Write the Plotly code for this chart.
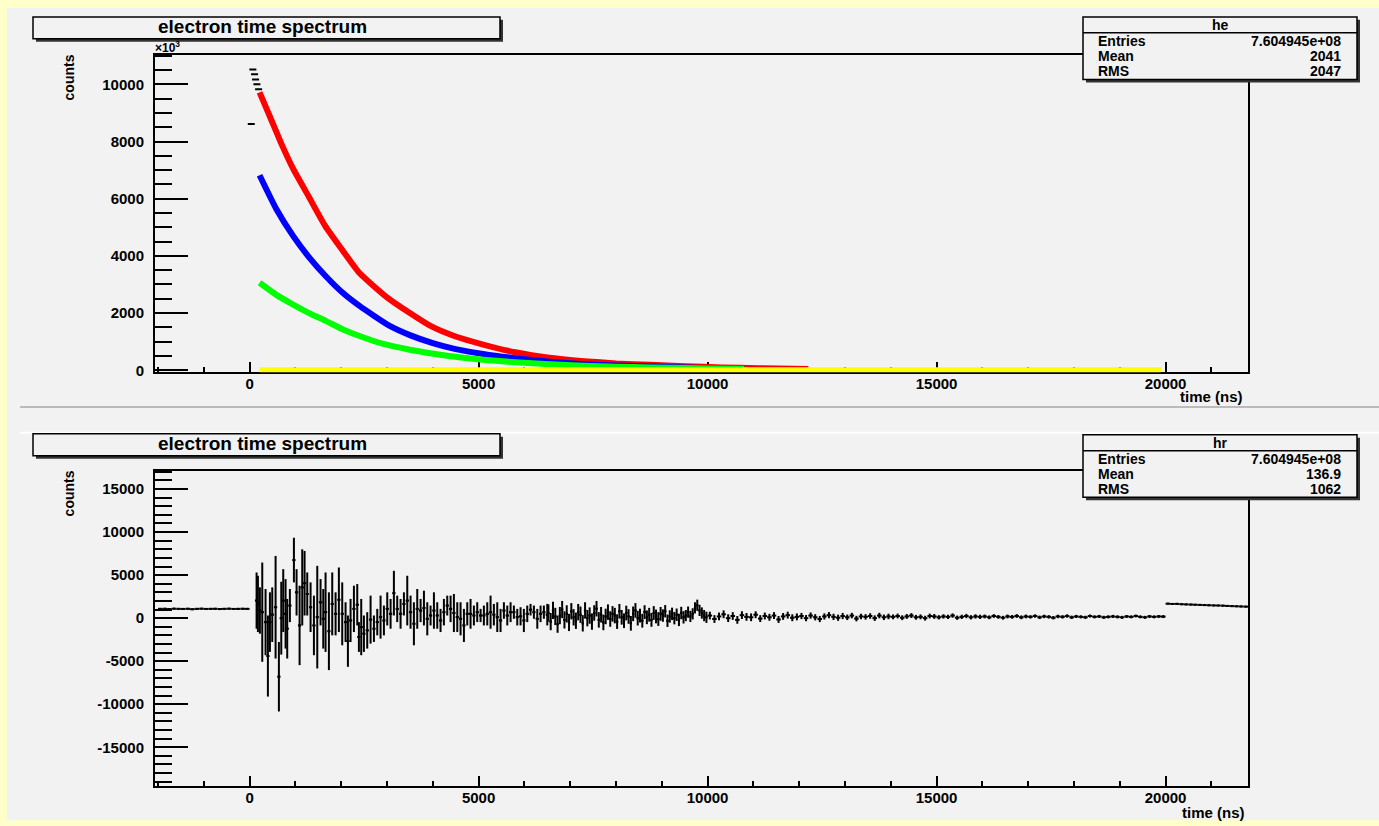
import plotly.graph_objects as go

W, H = 1379, 826
def px(x): return x / W
def py(y): return 1 - y / H

# ---------------- top panel data (he) ----------------
black_t = [37, 72, 109, 131, 160, 197]
black_v = [8610, 10520, 10350, 10170, 10000, 9830]

red_t = [218, 450, 700, 950, 1300, 1650, 2050, 2400, 3000, 3500, 3950, 4500, 5100, 5800, 6500, 7300, 8000, 8750, 9500, 10300, 11100, 12200]
red_v = [9720, 8850, 7900, 7050, 6050, 5050, 4150, 3400, 2550, 2000, 1550, 1180, 900, 630, 450, 320, 240, 190, 140, 100, 70, 45]

blue_t = [218, 580, 950, 1300, 1670, 2040, 2400, 3050, 3500, 4000, 4500, 5100, 5800, 6550, 7300, 8000, 8750, 9500, 10200, 10800]
blue_v = [6820, 5650, 4700, 3950, 3280, 2700, 2250, 1560, 1230, 950, 740, 570, 420, 300, 215, 165, 130, 95, 70, 55]

green_t = [218, 600, 950, 1300, 1670, 2050, 2400, 2900, 3500, 4350, 5100, 5800, 6550, 7300, 8000, 8750, 9500, 10200, 10800]
green_v = [3060, 2620, 2300, 2000, 1720, 1420, 1200, 930, 720, 500, 370, 280, 210, 160, 125, 100, 80, 60, 50]

yellow_t = [218, 19900]
yellow_v = [0, 0]

# ---------------- bottom panel data (hr) ----------------
hr_pre_t = list(range(-1950, 0, 100))
hr_pre_v = [1080, 1090, 1060, 1100, 1080, 1070, 1090, 1040, 1080, 1100,
            1070, 1080, 1090, 1060, 1080, 1100, 1070, 1080, 1090, 1080]
hr_pre_e = [60] * 20

hr_early_t = [153, 182, 225, 277, 349, 400, 444, 495, 568, 640, 692, 735, 786, 822, 880, 968, 1026, 1092, 1150, 1201,
              1259, 1332, 1405, 1478, 1550, 1609, 1659, 1732, 1805, 1878, 1950, 2023, 2096, 2147, 2205, 2278, 2351, 2387, 2438, 2496,
              2569, 2642, 2715, 2788, 2860, 2933, 3006, 3079, 3151, 3224, 3297, 3370, 3443, 3515, 3588, 3661, 3734, 3807, 3880, 3952,
              4025, 4098, 4170, 4243, 4316, 4389, 4461, 4535, 4607, 4680, 4753, 4825, 4898, 4971, 5044, 5116, 5190, 5262, 5334, 5408,
              5480, 5553, 5627, 5699, 5771, 5845, 5917, 5989, 6063, 6135, 6208, 6282, 6354, 6426, 6500]
hr_early_v = [2040, 1656, 887, 695, -459, -4400, -459, 406, 1271, -6803, -2, 2040, 502, -1228, 1464, 6750, 3002, -844, 3578, 4059,
              2809, 1271, -844, 118, 1848, -75, 695, -1516, 1656, 502, 2136, 502, -459, -2670, -267, 1079, 1560, -2189, -1036, -1805,
              -1420, -171, -1228, -459, 118, -267, 1079, 502, 2905, 1079, 502, 1656, 2040, 695, -651, 1079, 887, 1175, -75, 310,
              887, 310, -267, 695, 1464, 1079, 598, 118, -75, -844, 502, 502, 310, 695, 310, 310, 502, 695, 406, 118,
              -267, 887, 310, 695, 695, 118, 214, -267, 502, 983, 695, -75, 502, 695, 406]
hr_early_e = [3268, 3268, 2692, 5768, 3845, 4710, 3460, 3172, 5960, 4037, 4230, 3653, 4037, 3460, 1923, 2595, 2692, 4614, 4422, 3749,
              2500, 2884, 3460, 5960, 2692, 3460, 4614, 4518, 3653, 2500, 3749, 3653, 2307, 2980, 2500, 2692, 2403, 1730, 3268, 2115,
              2115, 2788, 1538, 1538, 2500, 1730, 1923, 1730, 2595, 1538, 1730, 1346, 2884, 1923, 2500, 2307, 1346, 2019, 1923, 1154,
              2115, 1538, 1346, 1538, 1154, 1538, 2211, 1730, 1923, 1923, 1346, 1730, 1154, 1154, 769, 1154, 1346, 1923, 1250, 1730,
              1346, 961, 1154, 1154, 769, 961, 1057, 1346, 961, 673, 769, 1154, 961, 769, 1250]

hr_mid_t = list(range(6525, 10000, 50))
hr_mid_v = [600, -400, 900, 200, -700, 300, 1000, -200, 500, -500,
            800, 100, -300, 700, 400, -600, 900, 0, 300, -400,
            600, 1100, -200, 400, -500, 200, 700, -100, 500, 300,
            -400, 800, 100, -300, 600, 200, -600, 500, 900, 0,
            300, -300, 700, 100, 400, -200, 600, 200, -100, 500,
            300, 800, -300, 200, 500, 0, 400, -200, 600, 100,
            300, 700, 200, 500, 1200, 1500, 900, 600, 300, 100]
hr_mid_block_e = [1000, 950, 900, 850, 800, 720, 650]
hr_mid_e = [e for e in hr_mid_block_e for _ in range(10)]

hr_late_t = list(range(10050, 20000, 100))
hr_late_v = [300, -100, 200, 450, 0, 250, -200, 350, 150, 100,
             400, -50, 250, 100, 300, -150, 200, 350, 50, 150,
             250, 0, 300, 100, -100, 200, 350, 150, 50, 250,
             100, 300, -50, 200, 150, 250, 0, 300, 100, 200,
             150, 250, 50, 200, 300, 100, 150, 0, 250, 200,
             100, 200, 150, 300, 50, 150, 250, 100, 200, 150,
             200, 100, 250, 150, 50, 200, 150, 250, 100, 200,
             150, 250, 100, 200, 150, 50, 200, 150, 250, 100,
             200, 150, 100, 250, 150, 200, 100, 150, 200, 150,
             100, 200, 150, 250, 150, 100, 200, 150, 200, 180]
hr_late_block_e = [450, 400, 360, 320, 280, 250, 220, 200, 180, 170]
hr_late_e = [e for e in hr_late_block_e for _ in range(10)]

hr_post_t = list(range(20050, 21800, 100))
hr_post_v = [1680, 1650, 1660, 1620, 1600, 1580, 1560, 1540, 1520, 1500,
             1480, 1470, 1450, 1420, 1400, 1380, 1360, 1340]
hr_post_e = [40] * 18

X_RANGE = [-2065, 21800]
x_ticks = [0, 5000, 10000, 15000, 20000]
x_ticklabels = ["0", "5000", "10000", "15000", "20000"]
y1_ticks = [0, 2000, 4000, 6000, 8000, 10000]
y1_ticklabels = ["0", "2000", "4000", "6000", "8000", "10000"]
y2_ticks = [-15000, -10000, -5000, 0, 5000, 10000, 15000]
y2_ticklabels = ["-15000", "-10000", "-5000", "0", "5000", "10000", "15000"]

he_stats = [("Entries", "7.604945e+08"), ("Mean", "2041"), ("RMS", "2047")]
hr_stats = [("Entries", "7.604945e+08"), ("Mean", "136.9"), ("RMS", "1062")]

FONT = "Liberation Sans"

fig = go.Figure()

# top traces
fig.add_trace(go.Scatter(x=black_t, y=black_v, mode="markers", xaxis="x", yaxis="y",
                         marker=dict(symbol="line-ew", size=5, line=dict(color="black", width=2)),
                         showlegend=False))
for t, v, c in [(red_t, red_v, "#FF0000"), (blue_t, blue_v, "#0000FF"), (green_t, green_v, "#00FF00")]:
    fig.add_trace(go.Scatter(x=t, y=v, mode="lines", xaxis="x", yaxis="y",
                             line=dict(color=c, width=6, shape="spline", smoothing=0.5), showlegend=False))
fig.add_trace(go.Scatter(x=yellow_t, y=yellow_v, mode="lines", xaxis="x", yaxis="y",
                         line=dict(color="#FFFF00", width=6), showlegend=False))

# bottom traces
segments = [
    (hr_pre_t, hr_pre_v, hr_pre_e, 50),
    (hr_early_t, hr_early_v, hr_early_e, 36),
    (hr_mid_t, hr_mid_v, hr_mid_e, 25),
    (hr_late_t, hr_late_v, hr_late_e, 50),
    (hr_post_t, hr_post_v, hr_post_e, 50),
]
for t, v, e, hw in segments:
    fig.add_trace(go.Scatter(
        x=t, y=v, mode="markers", xaxis="x2", yaxis="y2",
        marker=dict(size=2, color="black", symbol="square"),
        error_y=dict(type="data", array=e, visible=True, color="black", thickness=2, width=0),
        error_x=dict(type="data", array=[hw] * len(t), visible=True, color="black", thickness=2, width=0),
        showlegend=False))

axis_common = dict(showgrid=False, zeroline=False, showline=True, linecolor="black", linewidth=2,
                   mirror=True, ticks="inside", tickcolor="black", tickwidth=2, tickmode="array",
                   tickfont=dict(family=FONT, size=15, color="black", weight="bold"),
                   layer="below traces")

fig.update_layout(
    width=W, height=H, autosize=False,
    margin=dict(l=0, r=0, t=0, b=0, pad=0),
    paper_bgcolor="#FFFFCC", plot_bgcolor="#F2F2F2",
    xaxis=dict(domain=[px(155), px(1248)], range=X_RANGE, anchor="y",
               tickvals=x_ticks, ticktext=x_ticklabels, ticklen=10, ticklabelstandoff=-3,
               minor=dict(dtick=1000, tick0=0, ticklen=5, ticks="inside", tickcolor="black", tickwidth=2),
               **axis_common),
    yaxis=dict(domain=[py(375), py(55)], range=[-70, 11040], anchor="x",
               tickvals=y1_ticks, ticktext=y1_ticklabels, ticklen=33, ticklabelstandoff=6,
               minor=dict(dtick=500, tick0=0, ticklen=17, ticks="inside", tickcolor="black", tickwidth=2),
               **axis_common),
    xaxis2=dict(domain=[px(155), px(1248)], range=X_RANGE, anchor="y2",
                tickvals=x_ticks, ticktext=x_ticklabels, ticklen=10, ticklabelstandoff=-3,
                minor=dict(dtick=1000, tick0=0, ticklen=5, ticks="inside", tickcolor="black", tickwidth=2),
                **axis_common),
    yaxis2=dict(domain=[py(792), py(474)], range=[-19530, 17150], anchor="x2",
                tickvals=y2_ticks, ticktext=y2_ticklabels, ticklen=33, ticklabelstandoff=6,
                minor=dict(dtick=1000, tick0=0, ticklen=17, ticks="inside", tickcolor="black", tickwidth=2),
                **axis_common),
)

shapes = []
# canvas / pads
shapes.append(dict(type="rect", xref="paper", yref="paper", x0=px(7), x1=1, y0=0, y1=py(8),
                   fillcolor="#F2F2F2", line=dict(width=0), layer="below"))
shapes.append(dict(type="line", xref="paper", yref="paper", x0=px(20), x1=1, y0=py(410), y1=py(410),
                   line=dict(color="#BBBBBB", width=2), layer="below"))
shapes.append(dict(type="line", xref="paper", yref="paper", x0=px(20), x1=1, y0=py(436), y1=py(436),
                   line=dict(color="#FFFFFF", width=2), layer="below"))

def box(x0, y0, x1, y1):
    shapes.append(dict(type="rect", xref="paper", yref="paper", x0=px(x0 + 3), x1=px(x1 + 3),
                       y0=py(y1 + 3), y1=py(y0 + 3), fillcolor="#333333", line=dict(width=0), layer="above"))
    shapes.append(dict(type="rect", xref="paper", yref="paper", x0=px(x0), x1=px(x1),
                       y0=py(y1), y1=py(y0), fillcolor="#F2F2F2", line=dict(color="black", width=1.5), layer="above"))

annotations = []
def text(x, y, s, size=15, xanchor="center", textangle=0, yanchor="middle"):
    annotations.append(dict(x=px(x), y=py(y), xref="paper", yref="paper", text=s, showarrow=False,
                            xanchor=xanchor, yanchor=yanchor, textangle=textangle,
                            font=dict(family=FONT, size=size, color="black", weight="bold")))

for (ty, sy, name, stats) in [(17, 17, "he", he_stats), (437, 438, "hr", hr_stats)]:
    box(33, ty, 500, ty + 22)
    text(262, ty + 10, "electron time spectrum", size=19)
    box(1083, sy, 1357, sy + 63)
    shapes.append(dict(type="line", xref="paper", yref="paper", x0=px(1083), x1=px(1357),
                       y0=py(sy + 16), y1=py(sy + 16), line=dict(color="black", width=1.5), layer="above"))
    text(1220, sy + 8, name, size=14)
    for i, (k, v) in enumerate(stats):
        yy = sy + 24 + i * 15.3
        text(1096, yy, k, size=14, xanchor="left")
        text(1343, yy, v, size=14, xanchor="right")

text(69, 78, "counts", size=14, textangle=-90)
text(69, 497, "counts", size=14, textangle=-90)
text(153, 47, "×10<sup>3</sup>", size=12, xanchor="left")
text(1245, 399, "time (ns)", size=15, xanchor="right")
text(1247, 818, "time (ns)", size=15, xanchor="right")

fig.update_layout(shapes=shapes, annotations=annotations)
fig.write_html("out.html")
